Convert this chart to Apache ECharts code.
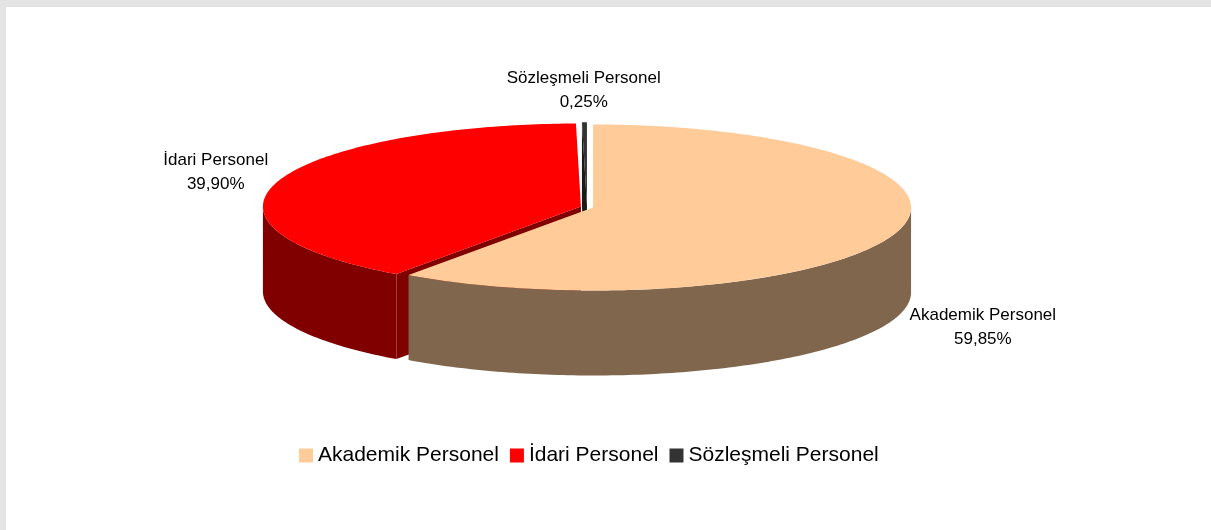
<!DOCTYPE html>
<html>
<head>
<meta charset="utf-8">
<script src="https://cdn.jsdelivr.net/npm/echarts@6/dist/echarts.min.js"></script>
<style>
  body { margin: 0; background: #e4e4e4; }
  #main { position: absolute; left: 6px; top: 7px; width: 1205px; height: 523px; background: #fff; }
</style>
</head>
<body>
<div id="main"></div>
<script>
// chart data
const categories = ['Akademik Personel', 'İdari Personel', 'Sözleşmeli Personel'];
const shares = [59.85, 39.90, 0.25];
const topColors = ['#FFCC99', '#FF0000', '#333333'];
const sideColors = ['#80664D', '#800000', '#1A1A1A'];

// fake 3d pie geometry (pixels inside the chart div)
const PIE = { cx: 581, cy: 200, rx: 318, ry: 83, depth: 85, explode: 0.02 };
const LABEL_FONT = '17px "Liberation Sans", Arial, sans-serif';

const total = shares.reduce((a, b) => a + b, 0);
let startAngles = [];
let acc = 0;
shares.forEach(v => {
    startAngles.push(90 - 360 * acc / total);
    acc += v;
});

function fmtPct(v) {
    return v.toFixed(2).replace('.', ',') + '%';
}

const measureCtx = document.createElement('canvas').getContext('2d');
measureCtx.font = LABEL_FONT;

function pt(a, ox, oy, down) {
    let r = a * Math.PI / 180;
    return [PIE.cx + ox + PIE.rx * Math.cos(r), PIE.cy + oy - PIE.ry * Math.sin(r) + (down || 0)];
}

function arc(a0, a1, ox, oy, down) {
    let n = Math.max(2, Math.ceil(Math.abs(a0 - a1)) + 1);
    let pts = [];
    for (let k = 0; k < n; k++) {
        pts.push(pt(a0 + (a1 - a0) * k / (n - 1), ox, oy, down));
    }
    return pts;
}

function renderSlice(params, api) {
    let i = params.seriesIndex;
    let s = startAngles[i];
    let e = s - 360 * api.value(0) / total;
    let mr = (s + e) / 2 * Math.PI / 180;
    let ox = PIE.explode * PIE.rx * Math.cos(mr);
    let oy = -PIE.explode * PIE.ry * Math.sin(mr);
    let c = [PIE.cx + ox, PIE.cy + oy];
    let cd = [c[0], c[1] + PIE.depth];
    let children = [];

    // cut faces facing the viewer
    if (Math.cos(s * Math.PI / 180) < -1e-9) {
        children.push({ type: 'polygon', z2: 1,
            shape: { points: [c, pt(s, ox, oy), pt(s, ox, oy, PIE.depth), cd] },
            style: { fill: sideColors[i] } });
    }
    if (Math.cos(e * Math.PI / 180) > 1e-9) {
        children.push({ type: 'polygon', z2: 1,
            shape: { points: [c, pt(e, ox, oy), pt(e, ox, oy, PIE.depth), cd] },
            style: { fill: sideColors[i] } });
    }

    // outer wall, front half only
    let a0 = Math.min(s, 0), a1 = Math.max(e, -180);
    if (a0 > a1) {
        let pts = arc(a0, a1, ox, oy, 0).concat(arc(a1, a0, ox, oy, PIE.depth));
        children.push({ type: 'polygon', z2: 2, shape: { points: pts },
            style: { fill: sideColors[i] } });
    }

    // top
    children.push({ type: 'polygon', z2: 3,
        shape: { points: [c].concat(arc(s, e, ox, oy, 0)) },
        style: { fill: topColors[i] } });

    // label outside the slice
    let dx = Math.cos(mr), dy = -Math.sin(mr);
    let anchor = pt((s + e) / 2, ox, oy, dy > 0 ? PIE.depth : 0);
    let w = measureCtx.measureText(categories[i]).width;
    let d = dy > 0 ? 18 : 12;
    children.push({ type: 'text', z2: 10,
        style: {
            text: categories[i] + '\n' + fmtPct(shares[i]),
            x: anchor[0] + dx * d + dx * w / 2,
            y: anchor[1] + dy * 12 + dy * 20,
            align: 'center', verticalAlign: 'middle',
            font: LABEL_FONT, lineHeight: 24, fill: '#000'
        } });

    return { type: 'group', children: children };
}

let options = {
    animation: false,
    legend: {
        data: categories,
        left: 288,
        top: 433,
        icon: 'rect',
        itemWidth: 14,
        itemHeight: 14,
        itemGap: 11,
        selectedMode: false,
        textStyle: { fontSize: 21, fontFamily: '"Liberation Sans", Arial, sans-serif', color: '#000' }
    },
    series: categories.map((name, i) => ({
        type: 'custom',
        name: name,
        coordinateSystem: 'none',
        silent: true,
        itemStyle: { color: topColors[i] },
        renderItem: renderSlice,
        data: [[shares[i]]]
    }))
};

let myChart = echarts.init(document.getElementById('main'));
myChart.setOption(options);
</script>
</body>
</html>
